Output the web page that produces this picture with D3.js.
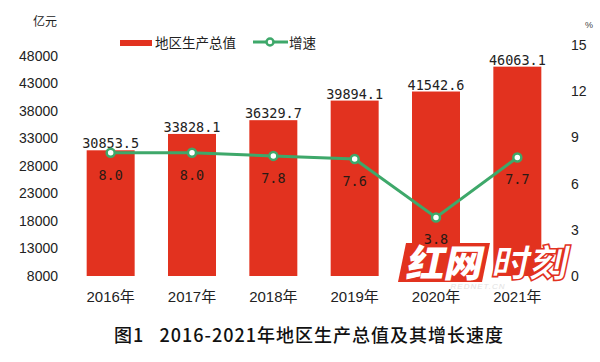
<!DOCTYPE html>
<html>
<head>
<meta charset="utf-8">
<script src="https://cdn.jsdelivr.net/npm/d3@7/dist/d3.min.js"></script>
<style>
  body { margin: 0; background: #fff; }
  svg { display: block; }
</style>
</head>
<body>
<div id="vis"></div>
<script>
// data
var years = ["2016年", "2017年", "2018年", "2019年", "2020年", "2021年"];
var gdp = [30853.5, 33828.1, 36329.7, 39894.1, 41542.6, 46063.1];
var growth = [8.0, 8.0, 7.8, 7.6, 3.8, 7.7];
var leftTicks = [8000, 13000, 18000, 23000, 28000, 33000, 38000, 43000, 48000];
var rightTicks = [0, 3, 6, 9, 12, 15];

var width = 600, height = 362;
var red = "#e2321f", green = "#3ea86a";
var sans = "'Liberation Sans', Arial, 'Noto Sans CJK SC', sans-serif";
var mono = "'DejaVu Sans Mono', 'Noto Sans CJK SC', monospace";
var cjk = "'Noto Sans CJK SC', sans-serif";

var svg = d3.select("#vis").append("svg")
    .attr("width", width)
    .attr("height", height);

var x = d3.scaleBand().domain(years).range([70, 558]).paddingInner(0.41).paddingOuter(0.205);
var yL = d3.scaleLinear().domain([8000, 50000]).range([276, 45]);
var yR = d3.scaleLinear().domain([0, 15]).range([276, 45]);

// left axis (labels only)
var axL = svg.append("g").attr("transform", "translate(58,0)")
    .call(d3.axisLeft(yL).tickValues(leftTicks).tickFormat(d3.format("d")).tickSize(0).tickPadding(0));
axL.select(".domain").remove();
axL.selectAll("text").attr("font-family", sans).attr("font-size", 14).attr("fill", "#222");

// right axis (labels only)
var axR = svg.append("g").attr("transform", "translate(571,0)")
    .call(d3.axisRight(yR).tickValues(rightTicks).tickSize(0).tickPadding(0));
axR.select(".domain").remove();
axR.selectAll("text").attr("font-family", sans).attr("font-size", 14).attr("fill", "#222");

// x labels
svg.append("g").selectAll("text").data(years).enter().append("text")
    .attr("x", function (d) { return x(d) + x.bandwidth() / 2; })
    .attr("y", 302)
    .attr("text-anchor", "middle")
    .attr("font-family", sans)
    .attr("font-size", 15)
    .attr("fill", "#222")
    .text(function (d) { return d; });

// units
svg.append("text").attr("x", 33).attr("y", 26)
    .attr("font-family", cjk).attr("font-size", 12).attr("fill", "#222")
    .text("亿元");
svg.append("text").attr("x", 585).attr("y", 28)
    .attr("font-family", sans).attr("font-size", 9).attr("fill", "#444")
    .text("%");

// bars
svg.append("g").selectAll("rect").data(gdp).enter().append("rect")
    .attr("x", function (d, i) { return x(years[i]); })
    .attr("y", function (d) { return yL(d); })
    .attr("width", x.bandwidth())
    .attr("height", function (d) { return yL(8000) - yL(d); })
    .attr("fill", red);

// watermark logo
var logo = svg.append("g");
logo.append("path")
    .attr("d", "M406,243 L490,243 L482,282 L398,282 Z")
    .attr("fill", red);
logo.append("text").attr("x", 444).attr("y", 277)
    .attr("text-anchor", "middle")
    .attr("font-family", cjk).attr("font-weight", 900)
    .attr("font-size", 38).attr("fill", "#fff")
    .attr("transform", "skewX(-12) translate(58,0)")
    .text("红网");
logo.append("text").attr("x", 529).attr("y", 277)
    .attr("text-anchor", "middle")
    .attr("font-family", cjk).attr("font-weight", 900)
    .attr("font-size", 38).attr("fill", "#fff").attr("stroke", red).attr("stroke-width", 1.5)
    .attr("transform", "skewX(-12) translate(58,0)")
    .text("时刻");
logo.append("text").attr("x", 478).attr("y", 289)
    .attr("text-anchor", "middle")
    .attr("font-family", sans).attr("font-size", 8).attr("font-style", "italic")
    .attr("fill", "#e2e2e2").attr("letter-spacing", 1)
    .text("REDNET.CN");

// bar value labels
svg.append("g").selectAll("text").data(gdp).enter().append("text")
    .attr("x", function (d, i) { return x(years[i]) + x.bandwidth() / 2; })
    .attr("y", function (d) { return yL(d) - 2; })
    .attr("text-anchor", "middle")
    .attr("font-family", mono)
    .attr("font-size", 13.5)
    .attr("fill", "#222")
    .text(function (d) { return d.toFixed(1); });

// growth line
var line = d3.line()
    .x(function (d, i) { return x(years[i]) + x.bandwidth() / 2; })
    .y(function (d) { return yR(d); });

svg.append("path").datum(growth)
    .attr("d", line)
    .attr("fill", "none")
    .attr("stroke", green)
    .attr("stroke-width", 3);

svg.append("g").selectAll("circle").data(growth).enter().append("circle")
    .attr("cx", function (d, i) { return x(years[i]) + x.bandwidth() / 2; })
    .attr("cy", function (d) { return yR(d); })
    .attr("r", 4)
    .attr("fill", "#fff")
    .attr("stroke", green)
    .attr("stroke-width", 2.5);

svg.append("g").selectAll("text").data(growth).enter().append("text")
    .attr("x", function (d, i) { return x(years[i]) + x.bandwidth() / 2; })
    .attr("y", function (d) { return yR(d) + 27; })
    .attr("text-anchor", "middle")
    .attr("font-family", mono)
    .attr("font-size", 13.5)
    .attr("fill", "#2a1a14")
    .text(function (d) { return d.toFixed(1); });

// legend
var lg = svg.append("g");
lg.append("rect").attr("x", 120).attr("y", 40).attr("width", 32).attr("height", 6).attr("fill", red);
lg.append("text").attr("x", 155).attr("y", 48)
    .attr("font-family", cjk).attr("font-size", 13.5).attr("fill", "#222")
    .text("地区生产总值");
lg.append("line").attr("x1", 253).attr("x2", 288).attr("y1", 42).attr("y2", 42)
    .attr("stroke", green).attr("stroke-width", 3);
lg.append("circle").attr("cx", 270).attr("cy", 42).attr("r", 3.5)
    .attr("fill", "#fff").attr("stroke", green).attr("stroke-width", 2.5);
lg.append("text").attr("x", 289).attr("y", 48)
    .attr("font-family", cjk).attr("font-size", 13.5).attr("fill", "#222")
    .text("增速");

// caption
svg.append("text").attr("x", 309).attr("y", 342)
    .attr("text-anchor", "middle")
    .attr("font-family", cjk)
    .attr("font-size", 18)
    .attr("font-weight", 500)
    .attr("letter-spacing", 1)
    .attr("fill", "#111")
    .text("图1\u00a0\u00a0\u00a02016-2021年地区生产总值及其增长速度");
</script>
</body>
</html>
